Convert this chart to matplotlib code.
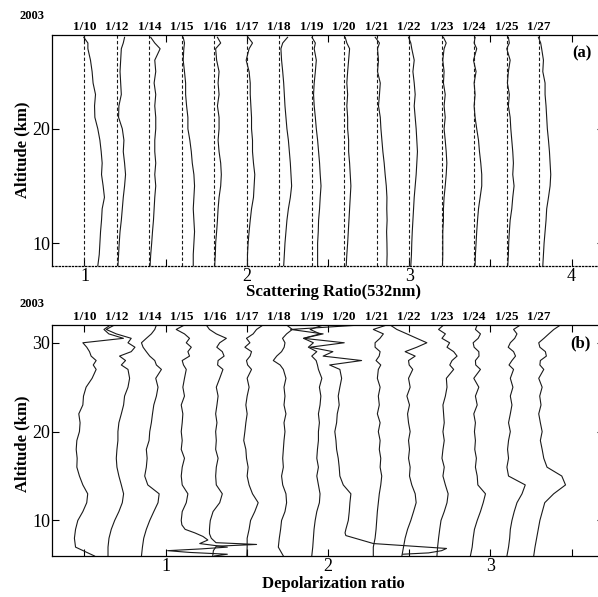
import numpy as np
import matplotlib
matplotlib.use('Agg')
import matplotlib.pyplot as plt
from matplotlib.ticker import MultipleLocator

plt.rcParams['font.family'] = ['Liberation Serif', 'DejaVu Serif']

## ------------------------------
## observation days (Jan 2003)
dates = ['1/10', '1/12', '1/14', '1/15', '1/16', '1/17', '1/18', '1/19',
         '1/20', '1/21', '1/22', '1/23', '1/24', '1/25', '1/27']

## (a) scattering ratio at 532nm, each day shifted by +0.2
alt_a = [8, 9, 10, 11, 12, 13, 14, 15, 16, 17, 18, 19, 20, 21, 22, 23, 24, 25, 26, 27, 27.5, 28]
sr_0110 = [1.082,1.091,1.095,1.099,1.105,1.109,1.123,1.115,1.105,1.109,1.103,1.095,1.082,1.064,1.062,1.068,1.053,1.047,1.037,1.021,1.021,0.996]
sr_0112 = [1.006,1.010,1.014,1.019,1.027,1.033,1.039,1.047,1.053,1.047,1.039,1.043,1.033,1.010,1.012,1.027,1.023,1.019,1.023,1.027,1.039,1.047]
sr_0114 = [1.004,1.008,1.014,1.019,1.025,1.029,1.033,1.039,1.033,1.039,1.033,1.033,1.039,1.039,1.033,1.039,1.029,1.039,1.033,1.066,1.033,1.008]
sr_0115 = [1.070,1.070,1.074,1.078,1.074,1.070,1.074,1.078,1.074,1.064,1.058,1.049,1.037,1.037,1.029,1.023,1.023,1.016,1.008,1.012,1.016,1.008]
sr_0116 = [1.002,1.006,1.008,1.014,1.019,1.023,1.029,1.039,1.043,1.039,1.029,1.023,1.029,1.029,1.019,1.029,1.023,1.029,1.014,1.008,1.039,1.019]
sr_0117 = [1.004,1.004,1.008,1.014,1.021,1.029,1.041,1.045,1.049,1.041,1.035,1.035,1.029,1.029,1.025,1.021,1.021,1.014,0.996,1.014,1.035,1.008]
sr_0118 = [1.027,1.031,1.035,1.041,1.047,1.056,1.068,1.076,1.072,1.068,1.062,1.056,1.047,1.041,1.035,1.031,1.027,1.021,1.014,1.010,1.021,1.051]
sr_0119 = [1.036,1.036,1.036,1.040,1.042,1.048,1.052,1.057,1.052,1.048,1.042,1.036,1.028,1.022,1.015,1.011,1.015,1.022,1.028,1.015,1.022,1.001]
sr_0120 = [1.012,1.016,1.021,1.025,1.029,1.033,1.037,1.041,1.037,1.033,1.027,1.027,1.021,1.021,1.016,1.021,1.016,1.021,1.027,1.033,1.016,1.006]
sr_0121 = [1.062,1.064,1.063,1.061,1.064,1.062,1.063,1.059,1.052,1.046,1.038,1.032,1.026,1.022,1.011,1.017,1.022,1.005,1.011,1.005,1.017,0.991]
sr_0122 = [1.010,1.014,1.016,1.019,1.023,1.027,1.031,1.037,1.043,1.047,1.051,1.047,1.043,1.037,1.031,1.037,1.031,1.023,1.031,1.016,1.010,0.996]
sr_0123 = [1.005,1.007,1.007,1.007,1.011,1.011,1.015,1.022,1.028,1.032,1.028,1.022,1.015,1.022,1.015,1.022,1.011,1.015,1.007,1.015,1.028,1.011]
sr_0124 = [1.006,1.008,1.012,1.016,1.021,1.027,1.037,1.047,1.047,1.041,1.033,1.027,1.016,1.006,1.000,1.006,1.000,1.012,0.996,1.016,1.000,1.006]
sr_0125 = [1.007,1.011,1.013,1.017,1.022,1.032,1.038,1.046,1.038,1.042,1.038,1.032,1.026,1.022,1.011,1.017,1.005,1.011,1.022,1.001,1.017,1.011]
sr_0127 = [1.023,1.027,1.031,1.037,1.043,1.047,1.058,1.068,1.072,1.068,1.064,1.058,1.051,1.047,1.043,1.037,1.037,1.023,1.027,1.016,1.010,0.996]
sr_all = [sr_0110, sr_0112, sr_0114, sr_0115, sr_0116, sr_0117, sr_0118, sr_0119,
          sr_0120, sr_0121, sr_0122, sr_0123, sr_0124, sr_0125, sr_0127]

## (b) depolarization ratio, deviation from each day's base line (0.5 + 0.2*i)
nan = np.nan
alt_b = [6, 7, 8, 9, 10, 11, 12, 13, 14, 15, 16, 17, 18, 19, 20, 21, 22, 23, 24, 25, 26, 27,
         27.5, 28, 28.5, 29, 29.5, 30, 30.5, 31, 31.5, 32]
dp_0110 = [0.062,-0.055,-0.062,-0.055,-0.041,-0.010,0.014,0.020,-0.010,-0.031,-0.047,-0.045,-0.051,-0.047,-0.031,-0.027,-0.035,-0.010,-0.006,0.010,0.047,0.072,0.054,0.072,0.041,0.031,0.014,-0.010,0.240,0.150,0.120,0.160]
dp_0112 = [-0.055,-0.055,-0.049,-0.035,-0.014,0.012,0.033,0.041,0.027,0.012,0.000,-0.004,0.000,0.006,0.006,0.012,0.027,0.041,0.047,0.068,0.078,0.068,0.027,0.053,0.016,0.088,0.111,0.068,0.088,-0.004,-0.066,-0.015]
dp_0114 = [-0.049,-0.043,-0.035,-0.019,0.002,0.027,0.053,0.060,-0.010,-0.029,-0.019,-0.014,-0.019,-0.002,0.002,0.012,0.019,0.027,0.043,0.053,0.039,0.074,0.043,0.033,0.002,-0.019,-0.039,-0.049,-0.019,0.012,0.033,0.043]
dp_0115 = [nan,nan,nan,nan,-0.004,0.002,0.027,0.037,0.002,-0.004,0.002,0.016,-0.004,0.002,-0.004,0.002,0.006,-0.004,0.016,0.006,0.016,0.027,0.010,0.002,0.047,0.037,0.058,0.027,0.047,0.016,-0.035,0.016]
dp_0116 = [nan,nan,nan,nan,-0.025,-0.008,0.033,0.049,0.012,0.008,0.012,0.023,0.008,0.012,0.008,0.016,0.008,0.016,0.023,0.012,0.033,0.053,0.020,0.023,0.060,0.049,0.015,0.033,0.074,0.012,-0.030,-0.050]
dp_0117 = [0.000,0.002,0.002,0.014,0.023,0.049,0.070,0.035,0.014,0.002,0.008,-0.002,-0.006,-0.019,-0.012,-0.006,0.002,-0.006,0.002,0.014,0.002,0.029,0.005,-0.002,0.020,0.029,-0.012,0.019,-0.002,0.039,0.060,0.100]
dp_0118 = [0.025,-0.006,0.000,0.008,0.014,0.035,0.045,0.041,0.021,0.014,0.025,0.021,0.025,0.029,0.035,0.029,0.041,0.029,0.035,0.029,0.041,0.025,0.005,-0.037,-0.016,0.014,0.030,0.035,0.020,0.045,0.080,0.045]
dp_0119 = [0.000,0.006,0.010,0.014,0.021,0.031,0.047,0.051,0.041,0.031,0.041,0.031,0.035,0.041,0.041,0.047,0.041,0.051,0.056,0.047,0.062,0.041,0.035,0.027,0.000,0.031,-0.021,0.010,-0.051,0.051,-0.010,0.072]
dp_0120 = [nan,nan,nan,0.010,0.025,0.031,0.035,0.041,-0.006,-0.027,-0.031,-0.037,-0.047,-0.051,-0.058,-0.047,-0.043,-0.031,-0.037,-0.027,-0.016,-0.027,-0.090,0.107,-0.130,-0.070,-0.210,0.000,-0.250,-0.130,-0.330,0.100]
dp_0121 = [-0.021,-0.021,-0.010,-0.004,0.000,0.004,0.010,0.016,0.025,0.031,0.021,0.025,0.016,0.021,0.010,0.021,0.004,0.016,0.010,0.021,0.004,0.010,0.025,-0.004,0.015,0.021,-0.010,-0.010,0.020,0.041,-0.021,0.062]
dp_0122 = [-0.045,-0.035,-0.025,-0.010,0.010,0.027,0.043,0.037,0.016,0.002,0.006,-0.004,0.002,-0.004,0.006,-0.004,-0.010,0.002,-0.014,0.006,-0.004,0.022,0.000,-0.004,0.037,-0.025,0.047,0.109,0.047,-0.014,-0.076,-0.117]
dp_0123 = [-0.029,-0.025,-0.019,-0.012,-0.004,0.016,0.033,0.040,0.023,0.008,0.016,0.002,0.008,0.016,0.008,0.016,0.012,0.008,0.023,0.033,0.029,0.074,0.050,0.064,0.095,0.074,0.033,0.049,0.002,0.023,-0.019,0.012]
dp_0124 = [-0.023,-0.012,-0.006,0.002,0.019,0.039,0.056,0.070,0.023,0.019,0.008,0.014,0.004,0.008,0.002,0.008,-0.002,0.019,0.008,0.029,-0.002,0.039,0.010,0.008,0.030,0.029,0.000,-0.006,0.025,0.039,0.008,0.019]
dp_0125 = [0.002,0.012,0.019,0.023,0.033,0.047,0.064,0.095,0.115,0.012,0.002,0.012,0.006,0.012,0.023,0.012,0.023,0.033,0.023,0.039,0.023,0.043,0.015,0.033,0.055,0.043,0.010,0.023,0.050,0.064,0.043,0.085]
dp_0127 = [-0.033,-0.025,-0.015,-0.005,0.005,0.020,0.035,0.090,0.163,0.140,0.049,0.029,0.019,0.008,0.019,0.008,-0.002,0.012,0.004,0.019,-0.002,0.029,0.005,0.008,0.045,0.039,0.005,-0.002,0.030,0.060,0.091,0.132]
dp_all = [dp_0110, dp_0112, dp_0114, dp_0115, dp_0116, dp_0117, dp_0118, dp_0119,
          dp_0120, dp_0121, dp_0122, dp_0123, dp_0124, dp_0125, dp_0127]

# low-level cloud structures (drawn bottom to top, altitude not monotonic in x)
low_alt_0115 = [6.0, 6.2, 6.4, 6.6, 6.8, 7.0, 7.4, 7.8, 8.2, 8.6, 9.0, 9.5]
low_dp_0115 = [0.20, 0.28, 0.05, -0.088, 0.12, 0.28, 0.11, 0.16, 0.13, 0.08, 0.02, 0.0]
low_alt_0116 = [6.0, 6.6, 7.1, 7.3, 7.5, 8.0, 8.5, 9.0, 9.5]
low_dp_0116 = [-0.010, -0.006, 0.012, 0.26, 0.010, -0.019, -0.030, -0.030, -0.028]
low_alt_0120 = [6.2, 6.35, 6.6, 6.85, 7.4, 8.3, 8.6]
low_dp_0120 = [0.36, 0.52, 0.60, 0.63, 0.18, 0.01, 0.005]
low_parts = {3: (low_alt_0115, low_dp_0115), 4: (low_alt_0116, low_dp_0116),
             8: (low_alt_0120, low_dp_0120)}

ink = '#1a1a1a'

def style_axes(ax, ymajor):
	ax.xaxis.set_major_locator(MultipleLocator(1))
	ax.xaxis.set_minor_locator(MultipleLocator(0.5))
	ax.yaxis.set_major_locator(MultipleLocator(ymajor))
	ax.tick_params(which='both', direction='in', top=True, right=True,
		length=5, width=0.8, labelsize=13, pad=1.5)
	for s in ax.spines.values():
		s.set_linewidth(0.9)

fig = plt.figure(figsize=(5.98, 5.97), dpi=100)
ax1 = fig.add_axes([52/598, 1-266/597, 552/598, 231/597])
ax2 = fig.add_axes([52/598, 1-556/597, 552/598, 231/597])

## ---- (a)
for i, sr in enumerate(sr_all):
	base = 1.0 + 0.2*i
	ax1.axvline(base, color=ink, lw=0.8, ls=(0, (3, 2)))
	ax1.plot(np.array(sr) + 0.2*i, alt_a, color=ink, lw=0.8)
	ax1.text(base, 1.01, dates[i], transform=ax1.get_xaxis_transform(),
		ha='center', va='bottom', fontsize=9.5, fontweight='bold')
ax1.set_xlim(0.8, 4.2)
ax1.set_ylim(8, 28.2)
style_axes(ax1, 10)
ax1.spines['bottom'].set_linestyle(':')

## ---- (b)
alt_b = np.array(alt_b)
for i, dp in enumerate(dp_all):
	base = 0.5 + 0.2*i
	dp = np.array(dp)
	ok = ~np.isnan(dp)
	x = dp[ok] + base
	y = alt_b[ok]
	if i in low_parts:
		la, ld = low_parts[i]
		x = np.concatenate([np.array(ld) + base, x])
		y = np.concatenate([la, y])
	ax2.plot(x, y, color=ink, lw=0.8)
	ax2.text(base, 1.01, dates[i], transform=ax2.get_xaxis_transform(),
		ha='center', va='bottom', fontsize=9.5, fontweight='bold')
ax2.set_xlim(0.3, 3.7)
ax2.set_ylim(6, 32)
style_axes(ax2, 10)

## ---- labels
fig.text(32/598, 1-16/597, '2003', ha='center', va='center', fontsize=9, fontweight='bold')
fig.text(32/598, 1-304/597, '2003', ha='center', va='center', fontsize=9, fontweight='bold')
fig.text(582/598, 1-53/597, '(a)', ha='center', va='center', fontsize=12, fontweight='bold')
fig.text(580/598, 1-343/597, '(b)', ha='center', va='center', fontsize=12, fontweight='bold')
fig.text(334/598, 1-292/597, 'Scattering Ratio(532nm)', ha='center', va='center', fontsize=12, fontweight='bold')
fig.text(333/598, 1-584/597, 'Depolarization ratio', ha='center', va='center', fontsize=12, fontweight='bold')
fig.text(22/598, 1-150/597, 'Altitude (km)', ha='center', va='center', rotation=90, fontsize=12, fontweight='bold')
fig.text(22/598, 1-444/597, 'Altitude (km)', ha='center', va='center', rotation=90, fontsize=12, fontweight='bold')

plt.savefig('out.png', dpi=100)
